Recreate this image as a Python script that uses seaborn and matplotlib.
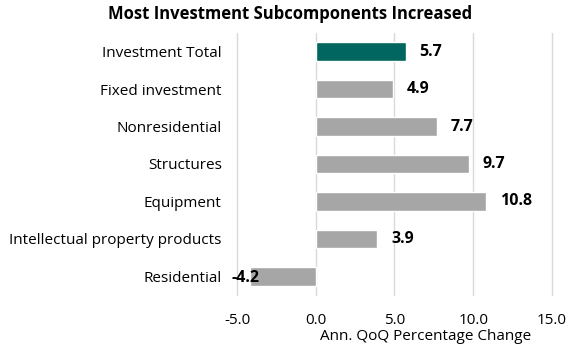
import pandas as pd
import seaborn as sns
import matplotlib.pyplot as plt

categories = ["Investment Total", "Fixed investment", "Nonresidential", "Structures",
              "Equipment", "Intellectual property products", "Residential"]
values = [5.7, 4.9, 7.7, 9.7, 10.8, 3.9, -4.2]
xticks = [-5.0, 0.0, 5.0, 10.0, 15.0]

df = pd.DataFrame({"category": categories, "value": values})
palette = ["#00665f"] + ["#a6a6a6"] * (len(categories) - 1)

sns.set_style("white")
plt.rcParams['font.family'] = ['Open Sans', 'DejaVu Sans']
plt.rcParams['text.color'] = 'black'
plt.rcParams['xtick.color'] = 'black'
plt.rcParams['ytick.color'] = 'black'
plt.rcParams['axes.labelcolor'] = 'black'

fig = plt.figure(figsize=(5.81, 3.5), dpi=100)
ax = fig.add_axes([0.408, 0.157, 0.542, 0.749])

sns.barplot(data=df, x="value", y="category", hue="category", palette=palette,
            legend=False, width=0.5, ax=ax, saturation=1)

ax.set_xlim(-5, 15)
ax.set_ylim(6.5, -0.5)
ax.set_xticks(xticks)
ax.set_xticklabels([f"{t:.1f}" for t in xticks], fontsize=11)
ax.tick_params(axis="y", labelsize=11, length=0, pad=11)
ax.tick_params(axis="x", length=0, pad=13)
ax.grid(axis="x", color="#d9d9d9", linewidth=1, clip_on=False)
for gl in ax.get_xgridlines():
    gl.set_clip_on(False)
ax.set_axisbelow(True)
for s in ax.spines.values():
    s.set_visible(False)
ax.set_ylabel("")
ax.set_xlabel("Ann. QoQ Percentage Change", fontsize=11, labelpad=-1)
ax.xaxis.set_label_coords(0.6, -0.13)

for i, v in enumerate(values):
    if v >= 0:
        ax.annotate(f"{v:.1f}", (v, i), xytext=(10, 0), textcoords="offset points",
                    ha="left", va="center", fontsize=11.5, fontweight="bold")
    else:
        ax.annotate(f"{v:.1f}", (v, i), xytext=(7, -1), textcoords="offset points",
                    ha="right", va="center", fontsize=11.5, fontweight="bold")

fig.suptitle("Most Investment Subcomponents Increased", fontsize=12,
             fontweight="bold", x=0.5, y=0.985)

fig.savefig("out.png", dpi=100)
